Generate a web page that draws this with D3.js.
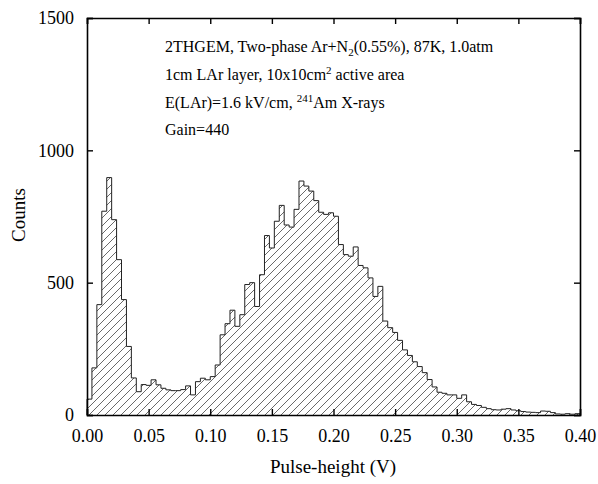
<!DOCTYPE html>
<html>
<head>
<meta charset="utf-8">
<script src="https://cdn.jsdelivr.net/npm/d3@7"></script>
<style>
  html, body { margin: 0; padding: 0; background: #fff; }
  svg { display: block; }
  text { font-family: "Liberation Serif", "DejaVu Serif", serif; fill: #000; }
</style>
</head>
<body>
<svg id="chart" width="598" height="484"></svg>
<script>
// ---- data ----
const binWidth = 0.004; // V
const counts = [
  60, 178, 417, 770, 897, 738, 587, 436, 259, 140,
  88, 115, 112, 133, 114, 101, 95, 92, 92, 96,
  110, 76, 126, 139, 133, 145, 189, 303, 345, 396,
  335, 379, 493, 500, 410, 530, 678, 631, 732, 792,
  718, 710, 777, 884, 865, 846, 810, 766, 758, 764,
  751, 644, 606, 600, 635, 565, 556, 518, 448, 486,
  355, 330, 312, 282, 246, 225, 201, 183, 160, 134,
  106, 86, 82, 76, 76, 63, 76, 50, 40, 36,
  29, 24, 20, 19, 22, 24, 19, 16, 13, 11,
  10, 9, 15, 14, 9, 4, 3, 5, 3, 5
];
const xTicks = [0.00, 0.05, 0.10, 0.15, 0.20, 0.25, 0.30, 0.35, 0.40];
const yTicks = [0, 500, 1000, 1500];
const xDomain = [0, 0.40];
const yDomain = [0, 1500];
const xLabel = "Pulse-height (V)";
const yLabel = "Counts";

(function () {
  const svg = d3.select("#chart");
  const mL = 87, mR = 580, mT = 18, mB = 415;
  const x = d3.scaleLinear().domain(xDomain).range([mL, mR]);
  const y = d3.scaleLinear().domain(yDomain).range([mB, mT]);

  // hatch pattern
  const defs = svg.append("defs");
  const pat = defs.append("pattern")
    .attr("id", "hatch")
    .attr("patternUnits", "userSpaceOnUse")
    .attr("width", 8).attr("height", 8);
  pat.append("path")
    .attr("d", "M-2,2 L2,-2 M0,8 L8,0 M6,10 L10,6")
    .attr("stroke", "#444").attr("stroke-width", 0.8);

  const n = counts.length;
  const pts = counts.map((c, i) => [i * binWidth, c]);
  pts.push([n * binWidth, counts[n - 1]]);

  const area = d3.area()
    .x(d => x(d[0])).y0(y(0)).y1(d => y(d[1]))
    .curve(d3.curveStepAfter);
  svg.append("path").datum(pts)
    .attr("d", area)
    .attr("fill", "url(#hatch)");

  const linePts = [[0, 0]].concat(pts).concat([[n * binWidth, 0]]);
  const line = d3.line()
    .x(d => x(d[0])).y(d => y(d[1]))
    .curve(d3.curveStepAfter);
  svg.append("path").datum(linePts)
    .attr("d", line)
    .attr("fill", "none")
    .attr("stroke", "#222")
    .attr("stroke-width", 1);

  // axes
  const tickLen = 6;
  const gB = svg.append("g").attr("transform", `translate(0,${mB})`)
    .call(d3.axisBottom(x).tickValues(xTicks).tickSize(-tickLen).tickPadding(tickLen + 8)
      .tickFormat(d3.format(".2f")));
  const gT = svg.append("g").attr("transform", `translate(0,${mT})`)
    .call(d3.axisTop(x).tickValues(xTicks).tickSize(-tickLen).tickFormat(""));
  const gL = svg.append("g").attr("transform", `translate(${mL},0)`)
    .call(d3.axisLeft(y).tickValues(yTicks).tickSize(-tickLen).tickPadding(tickLen + 7)
      .tickFormat(d3.format("d")));
  const gR = svg.append("g").attr("transform", `translate(${mR},0)`)
    .call(d3.axisRight(y).tickValues(yTicks).tickSize(-tickLen).tickFormat(""));

  [gB, gT, gL, gR].forEach(g => {
    g.select(".domain").attr("stroke", "#000").attr("stroke-width", 1.6);
    g.selectAll(".tick line").attr("stroke", "#000").attr("stroke-width", 1.4);
    g.selectAll(".tick text")
      .style("font-family", '"Liberation Serif", serif')
      .style("font-size", "18px").attr("fill", "#000");
  });

  // axis titles
  svg.append("text")
    .attr("x", 333).attr("y", 473)
    .attr("text-anchor", "middle").style("font-size", "19px")
    .text(xLabel);
  svg.append("text")
    .attr("transform", `translate(25,${215}) rotate(-90)`)
    .attr("text-anchor", "middle").style("font-size", "19px")
    .text(yLabel);

  // annotation
  const ann = svg.append("g").style("font-size", "16px");
  const t1 = ann.append("text").attr("x", 165).attr("y", 52);
  t1.append("tspan").text("2THGEM, Two-phase Ar+N");
  t1.append("tspan").attr("dy", 4).style("font-size", "11px").text("2");
  t1.append("tspan").attr("dy", -4).text("(0.55%), 87K, 1.0atm");
  const t2 = ann.append("text").attr("x", 165).attr("y", 80);
  t2.append("tspan").text("1cm LAr layer, 10x10cm");
  t2.append("tspan").attr("dy", -6).style("font-size", "11px").text("2");
  t2.append("tspan").attr("dy", 6).text(" active area");
  const t3 = ann.append("text").attr("x", 165).attr("y", 108);
  t3.append("tspan").text("E(LAr)=1.6 kV/cm, ");
  t3.append("tspan").attr("dy", -6).style("font-size", "11px").text("241");
  t3.append("tspan").attr("dy", 6).text("Am X-rays");
  ann.append("text").attr("x", 165).attr("y", 135).text("Gain=440");
})();
</script>
</body>
</html>
